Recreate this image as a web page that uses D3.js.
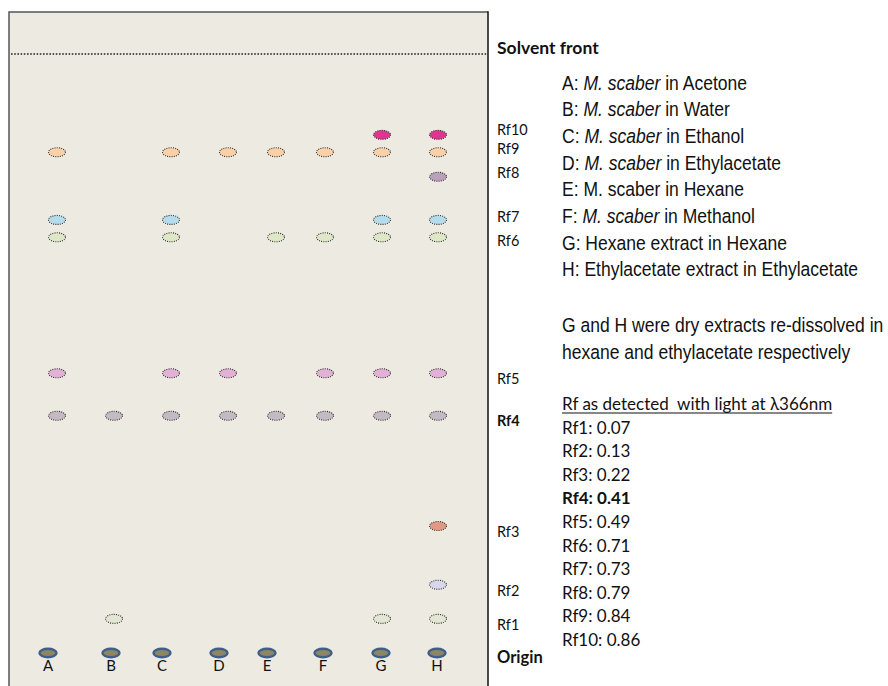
<!DOCTYPE html>
<meta charset="utf-8">
<script src="https://d3js.org/d3.v7.min.js"></script>
<style>
  body { margin: 0; background: #fff; }
</style>
<div id="my_dataviz"></div>
<script>

// lanes on the plate
const lanes = ["A", "B", "C", "D", "E", "F", "G", "H"];

// legend: [prefix, italic part, suffix]
const laneNames = [
  ["A: ", "M. scaber", " in Acetone"],
  ["B: ", "M. scaber", " in Water"],
  ["C: ", "M. scaber", " in Ethanol"],
  ["D: ", "M. scaber", " in Ethylacetate"],
  ["E: M. scaber in Hexane", "", ""],
  ["F: ", "M. scaber", " in Methanol"],
  ["G: Hexane extract in Hexane", "", ""],
  ["H: Ethylacetate extract in Ethylacetate", "", ""]
];

// bands, bottom to top
const rfLabels = ["Rf1", "Rf2", "Rf3", "Rf4", "Rf5", "Rf6", "Rf7", "Rf8", "Rf9", "Rf10"];
// Rf values as stated in the legend
const rfValues = [0.07, 0.13, 0.22, 0.41, 0.49, 0.71, 0.73, 0.79, 0.84, 0.86];
// Rf of each band as it is drawn on the plate
const spotRf = [0.057, 0.114, 0.212, 0.396, 0.467, 0.694, 0.723, 0.795, 0.836, 0.865];
// which lanes show each band
const spotLanes = [
  ["B", "G", "H"],
  ["H"],
  ["H"],
  ["A", "B", "C", "D", "E", "F", "G", "H"],
  ["A", "C", "D", "F", "G", "H"],
  ["A", "C", "E", "F", "G", "H"],
  ["A", "C", "G", "H"],
  ["H"],
  ["A", "C", "D", "E", "F", "G", "H"],
  ["G", "H"]
];
const boldBand = "Rf4";

const width = 888, height = 686;
const plate = { left: 9, top: 12, right: 488 };
const originY = 653, frontY = 54;

const svg = d3.select("#my_dataviz")
  .append("svg")
  .attr("width", width)
  .attr("height", height);

// Rf -> vertical position on the plate
const y = d3.scaleLinear().domain([0, 1]).range([originY, frontY]);
// lane -> horizontal position (spots were placed by hand, not evenly)
const x = d3.scaleOrdinal().domain(lanes).range([57, 114, 171, 228, 276, 325, 382, 438]);
const xOrigin = d3.scaleOrdinal().domain(lanes).range([48, 111, 162, 219, 267, 323, 381, 437]);

const color = d3.scaleOrdinal().domain(rfLabels)
  .range(["#E2E6D2", "#DAD6EE", "#E09A84", "#C5B9C3", "#E3B1D6",
          "#DEE8C6", "#B5DCEC", "#BAA1BB", "#F9D0A8", "#E0358E"]);

const calibri = "Lato, 'Open Sans', sans-serif";

// plate
svg.append("rect")
  .attr("x", plate.left).attr("y", plate.top)
  .attr("width", plate.right - plate.left).attr("height", height)
  .attr("fill", "#EDEBE1");
svg.append("path")
  .attr("d", `M${plate.left},${height}V${plate.top}H${plate.right}`)
  .attr("fill", "none").attr("stroke", "#555").attr("stroke-width", 1.5);
svg.append("line")
  .attr("x1", plate.right).attr("x2", plate.right)
  .attr("y1", plate.top - 0.75).attr("y2", height)
  .attr("stroke", "#111").attr("stroke-width", 1.5);

// solvent front
svg.append("line")
  .attr("x1", plate.left + 2).attr("x2", plate.right - 1)
  .attr("y1", y(1)).attr("y2", y(1))
  .attr("stroke", "#222").attr("stroke-width", 1.6)
  .attr("stroke-dasharray", "1.6,1.6");

// spots
const spots = [];
spotLanes.forEach((ls, i) => ls.forEach(l => spots.push({ lane: l, band: rfLabels[i], rf: spotRf[i] })));

svg.append("g").selectAll("ellipse")
  .data(spots)
  .join("ellipse")
  .attr("cx", d => x(d.lane))
  .attr("cy", d => y(d.rf))
  .attr("rx", 8.5).attr("ry", 4.5)
  .attr("fill", d => color(d.band))
  .attr("stroke", "#333").attr("stroke-width", 1.1)
  .attr("stroke-dasharray", "1,1.2");

// origin spots
svg.append("g").selectAll("ellipse")
  .data(lanes)
  .join("ellipse")
  .attr("cx", d => xOrigin(d))
  .attr("cy", y(0))
  .attr("rx", 8.5).attr("ry", 4.3)
  .attr("fill", "#8C8662")
  .attr("stroke", "#3E5E8E").attr("stroke-width", 2.4);

// lane letters
svg.append("g").selectAll("text")
  .data(lanes)
  .join("text")
  .attr("x", d => xOrigin(d))
  .attr("y", y(0) + 18)
  .attr("text-anchor", "middle")
  .attr("font-family", calibri).attr("font-size", 15)
  .attr("fill", "#111")
  .text(d => d);

// band labels beside the plate
const labelNudge = [6, 6, 5, 5, 5, 3, -3, -4, -4, -5];
svg.append("g").selectAll("text")
  .data(rfLabels)
  .join("text")
  .attr("x", 497)
  .attr("y", (d, i) => y(spotRf[i]) + labelNudge[i])
  .attr("dominant-baseline", "central")
  .attr("font-family", calibri).attr("font-size", 14.5)
  .attr("font-weight", d => d === boldBand ? "bold" : null)
  .attr("fill", "#111")
  .text(d => d);

svg.append("text")
  .attr("x", 497).attr("y", y(0) + 4)
  .attr("dominant-baseline", "central")
  .attr("font-family", calibri).attr("font-size", 16.5).attr("font-weight", "bold")
  .attr("fill", "#111")
  .text("Origin");

svg.append("text")
  .attr("x", 497).attr("y", 47)
  .attr("dominant-baseline", "central")
  .attr("font-family", calibri).attr("font-size", 17.5).attr("font-weight", "bold")
  .attr("fill", "#111")
  .text("Solvent front");

// condensed sans (Arial Narrow look): Liberation Sans squeezed horizontally
const narrow = svg.append("g")
  .attr("transform", "translate(562,0) scale(0.855,1)")
  .attr("font-family", "'Liberation Sans', Arial, sans-serif")
  .attr("font-size", 20.5).attr("fill", "#111");

const legend = narrow.selectAll("text.lane")
  .data(laneNames)
  .join("text")
  .attr("class", "lane")
  .attr("x", 0)
  .attr("y", (d, i) => 82 + i * 26.7)
  .attr("dominant-baseline", "central");
legend.append("tspan").text(d => d[0]);
legend.append("tspan").attr("font-style", "italic").text(d => d[1]);
legend.append("tspan").text(d => d[2]);

narrow.append("text").attr("x", 0).attr("y", 325).attr("dominant-baseline", "central")
  .text("G and H were dry extracts re-dissolved in");
narrow.append("text").attr("x", 0).attr("y", 352).attr("dominant-baseline", "central")
  .text("hexane and ethylacetate respectively");

// Rf list
const rfTitle = svg.append("text")
  .attr("x", 562).attr("y", 403)
  .attr("dominant-baseline", "central")
  .attr("font-family", calibri).attr("font-size", 17)
  .attr("fill", "#111")
  .text("Rf as detected  with light at λ366nm")
  .style("white-space", "pre");
const tb = rfTitle.node().getBBox();
svg.append("line")
  .attr("x1", tb.x).attr("x2", tb.x + tb.width)
  .attr("y1", 413).attr("y2", 413)
  .attr("stroke", "#111").attr("stroke-width", 1.1);

svg.append("g").selectAll("text")
  .data(rfLabels)
  .join("text")
  .attr("x", 562)
  .attr("y", (d, i) => 427 + i * 23.6)
  .attr("dominant-baseline", "central")
  .attr("font-family", calibri).attr("font-size", 17)
  .attr("font-weight", d => d === boldBand ? "bold" : null)
  .attr("fill", "#111")
  .text((d, i) => d + ": " + rfValues[i].toFixed(2));

</script>
